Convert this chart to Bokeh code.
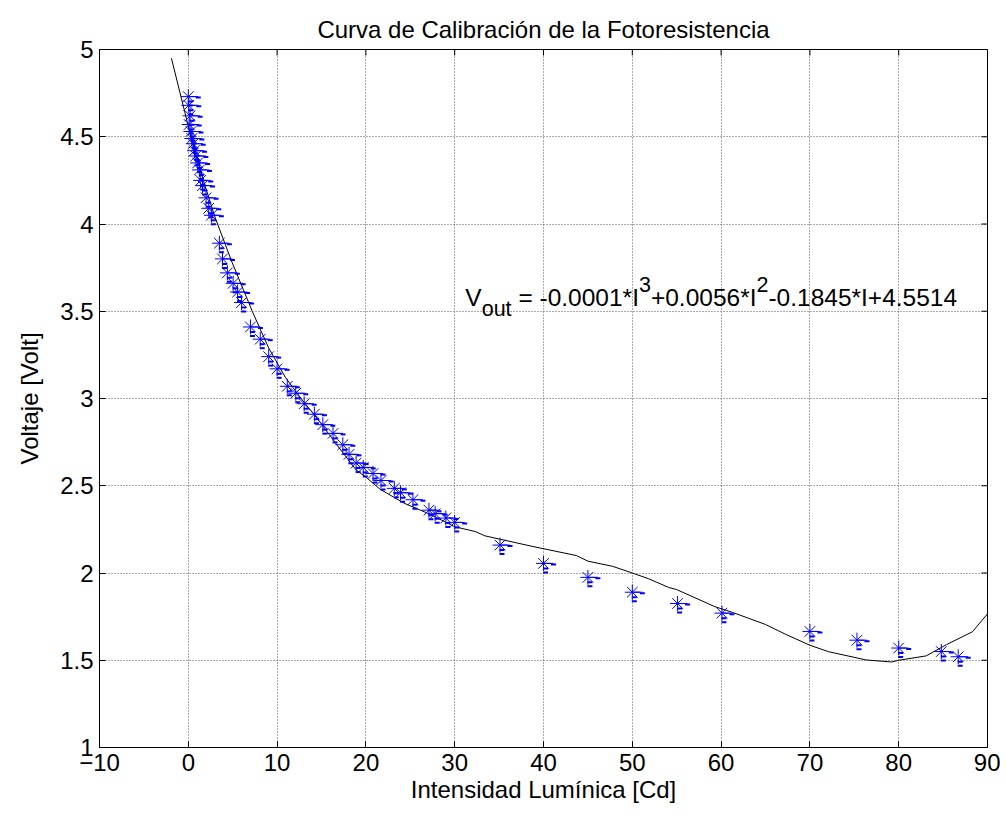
import math
from bokeh.plotting import figure
from bokeh.models import Range1d, FixedTicker, Label
from bokeh.embed import file_html
from bokeh.resources import INLINE

# ---------------- data ----------------
title_text = "Curva de Calibración de la Fotoresistencia"
x_label = "Intensidad Lumínica [Cd]"
y_label = "Voltaje [Volt]"
x_ticks = [-10, 0, 10, 20, 30, 40, 50, 60, 70, 80, 90]
y_ticks = [1, 1.5, 2, 2.5, 3, 3.5, 4, 4.5, 5]

# measured points (intensity [Cd], voltage [V])
intensity = [0.0, 0.05, 0.2, 0.1, 0.3, 0.4, 0.55, 0.7, 0.85, 1.05, 1.25, 1.4, 1.6,
             2.0, 2.3, 2.6, 3.5, 3.85, 4.4, 5.05, 5.55, 6.0, 7.0, 8.1, 9.05, 10.0,
             11.15, 12.1, 13.05, 14.2, 15.15, 16.3, 17.4, 18.1, 18.9, 19.7, 20.8,
             21.7, 23.2, 23.9, 25.3, 27.1, 27.8, 29.0, 30.0, 35.1, 40.0, 45.0,
             50.0, 55.1, 60.1, 70.0, 75.3, 80.0, 84.8, 86.7]
voltage = [4.73, 4.68, 4.62, 4.57, 4.53, 4.49, 4.46, 4.42, 4.39, 4.35, 4.31, 4.25, 4.22,
           4.15, 4.09, 4.05, 3.89, 3.80, 3.72, 3.66, 3.61, 3.55, 3.41, 3.34, 3.24, 3.17,
           3.07, 3.03, 2.97, 2.91, 2.85, 2.80, 2.735, 2.68, 2.63, 2.605, 2.57,
           2.53, 2.485, 2.46, 2.42, 2.36, 2.34, 2.315, 2.29, 2.16, 2.055, 1.975,
           1.89, 1.825, 1.77, 1.665, 1.615, 1.57, 1.55, 1.52]

# fitted curve as drawn
fit_x = [-1.9, 0, 1, 2, 3, 4.85, 7.2, 9.05, 10.95, 12.85, 14.75, 16.8, 18.9, 20.0,
         21.6, 24.3, 27.3, 30, 32.3, 33.4, 38.7, 43.7, 45, 47.8, 50, 51.8, 54.1, 55,
         59.3, 61.3, 65, 67.3, 70, 72.1, 76.3, 79.2, 80, 83.1, 85.4, 88.3, 90]
fit_v = [4.95, 4.56, 4.37, 4.20, 4.04, 3.79, 3.50, 3.29, 3.12, 2.99, 2.87, 2.73, 2.59, 2.55,
         2.48, 2.40, 2.335, 2.265, 2.238, 2.213, 2.153, 2.10, 2.068, 2.038, 2.0, 1.968, 1.917, 1.905,
         1.807, 1.774, 1.705, 1.648, 1.586, 1.549, 1.502, 1.49, 1.50, 1.525, 1.59, 1.663, 1.766]

eq_segments = [("V", "main"), ("out", "sub"), (" = -0.0001*I", "main"), ("3", "sup"),
               ("+0.0056*I", "main"), ("2", "sup"), ("-0.1845*I+4.5514", "main")]
eq_x = 31.2
eq_y = 3.58

# ---------------- styling ----------------
FONT = "Liberation Sans"
FS = "24px"
BLUE = "#0000FF"
X0, X1, Y0, Y1 = -10, 90, 1, 5

p = figure(width=1000, height=815, x_range=Range1d(X0, X1), y_range=Range1d(Y0, Y1),
           output_backend="svg", toolbar_location=None,
           min_border_left=99, min_border_right=13, min_border_top=49, min_border_bottom=68,
           background_fill_color="white", border_fill_color="white")

p.title.text = title_text
p.title.align = "center"
p.title.text_font = FONT
p.title.text_font_size = FS
p.title.text_font_style = "normal"
p.title.text_color = "black"
p.title.standoff = 14

for ax, ticks in ((p.xaxis[0], x_ticks), (p.yaxis[0], y_ticks)):
    ax.ticker = FixedTicker(ticks=ticks)
    ax.major_tick_in = 6
    ax.major_tick_out = 0
    ax.minor_tick_line_color = None
    ax.major_label_text_font = FONT
    ax.major_label_text_font_size = FS
    ax.major_label_text_color = "black"
    ax.major_label_standoff = 6
    ax.axis_label_text_font = FONT
    ax.axis_label_text_font_size = FS
    ax.axis_label_text_font_style = "normal"
    ax.axis_label_text_color = "black"
    ax.axis_line_color = "black"
    ax.major_tick_line_color = "black"
p.xaxis.axis_label = x_label
p.yaxis.axis_label = y_label
p.xaxis.axis_label_standoff = 2
p.yaxis.axis_label_standoff = 14

p.outline_line_color = "black"
p.outline_line_alpha = 1.0
p.xgrid.ticker = FixedTicker(ticks=x_ticks)
p.ygrid.ticker = FixedTicker(ticks=y_ticks)
for g in (p.xgrid[0], p.ygrid[0]):
    g.grid_line_color = "#555555"
    g.grid_line_dash = "1 2"
    g.grid_line_width = 1

# inward tick marks on the top and right edges (box style)
p.scatter(x=x_ticks, y=[Y1] * len(x_ticks), marker="dash", angle=math.pi / 2, size=12,
          line_color="black", line_width=1)
p.scatter(x=[X1] * len(y_ticks), y=y_ticks, marker="dash", size=12,
          line_color="black", line_width=1)

# fitted curve
p.line(fit_x, fit_v, line_color="black", line_width=1)

# tiny error-bar caps drawn as dashes beside each marker
px_x = (X1 - X0) / 888.0
px_y = (Y1 - Y0) / 698.0
p.segment(x0=intensity, y0=voltage, x1=[v + 10 * px_x for v in intensity], y1=voltage,
          line_color=BLUE, line_width=1)
p.scatter(x=[v + 10 * px_x for v in intensity], y=[v - 1 * px_y for v in voltage],
          marker="dash", size=5, line_color=BLUE, line_width=2)
p.scatter(x=[v + 2 * px_x for v in intensity], y=[v - 5 * px_y for v in voltage],
          marker="dash", size=5, line_color=BLUE, line_width=2)
p.scatter(x=[v + 2 * px_x for v in intensity], y=[v - 9 * px_y for v in voltage],
          marker="dash", size=5, line_color=BLUE, line_width=2)
p.scatter(x=intensity, y=voltage, marker="asterisk", size=15,
          line_color=BLUE, line_width=1)

# equation text composed from pieces (leading spaces turned into offsets)
AW = {' ': 278, '*': 389, '+': 584, '-': 333, '.': 278, '=': 584, 'I': 278,
      'V': 667, 'o': 556, 'u': 556, 't': 278}
sizes = {"main": 24.5, "sub": 21.5, "sup": 21.5}
shifts = {"main": 0, "sub": -12, "sup": 13}
offset = 0.0
for txt, kind in eq_segments:
    fs = sizes[kind]
    stripped = txt.lstrip(" ")
    offset += (len(txt) - len(stripped)) * AW[' '] * fs / 1000.0
    p.add_layout(Label(x=eq_x, y=eq_y, x_offset=offset, y_offset=shifts[kind], text=stripped,
                       text_font=FONT, text_font_size=f"{fs}px", text_color="black",
                       text_baseline="alphabetic", text_align="left"))
    offset += sum(AW.get(c, 556) for c in stripped) * fs / 1000.0

open("out.html", "w").write(file_html(p, INLINE))
